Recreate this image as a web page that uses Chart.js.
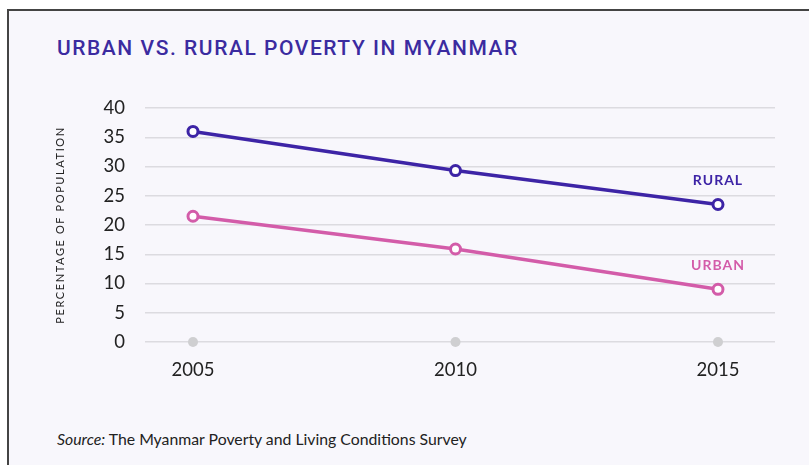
<!DOCTYPE html>
<html>
<head>
<meta charset="utf-8">
<script src="https://cdn.jsdelivr.net/npm/chart.js@4.4.1/dist/chart.umd.min.js"></script>
<style>
	html, body { margin: 0; padding: 0; background: #fff; }
	#wrap { position: relative; width: 809px; height: 465px; overflow: hidden; }
	#frame {
		position: absolute; left: 7px; top: 9px; width: 820px; height: 470px;
		background: #f8f7fc; border-left: 2px solid #444; border-top: 2px solid #444;
	}
	#title {
		position: absolute; left: 57px; top: 36px; margin: 0;
		font-family: "Roboto", sans-serif; font-weight: 500; font-size: 21px;
		color: #3b2ba0; letter-spacing: 1.55px; white-space: nowrap;
	}
	#source {
		position: absolute; left: 57px; top: 429px;
		font-family: "Lato", sans-serif; font-size: 15.8px; color: #222; white-space: nowrap;
	}
	canvas { position: absolute; left: 0; top: 0; }
</style>
</head>
<body>
<div id="wrap">
	<div id="frame"></div>
	<div id="title">URBAN VS. RURAL POVERTY IN MYANMAR</div>
	<div id="source"><i>Source:</i> The Myanmar Poverty and Living Conditions Survey</div>
	<canvas id="grafik" width="809" height="465"></canvas>
</div>
<script>
var years = [2005, 2010, 2015];
var rural = [36.0, 29.3, 23.5];
var urban = [21.5, 15.9, 9.0];
var baseline = [0, 0, 0];
var yTicks = [0, 5, 10, 15, 20, 25, 30, 35, 40];
var yTitle = 'PERCENTAGE OF POPULATION';

var ruralColor = '#3d24a6';
var urbanColor = '#d35ca9';

function points(vals) {
	var out = [];
	for (var i = 0; i < years.length; i++) {
		out.push({ x: years[i], y: vals[i] });
	}
	return out;
}

// series names above the last point, plus the spaced-out y axis title
var extraText = {
	id: 'extraText',
	afterDatasetsDraw: function (chart) {
		var ctx = chart.ctx;
		ctx.save();
		ctx.font = 'bold 14px "Lato", sans-serif';
		ctx.textAlign = 'center';
		ctx.textBaseline = 'middle';
		if (ctx.letterSpacing !== undefined) ctx.letterSpacing = '1px';
		[0, 1].forEach(function (d) {
			var meta = chart.getDatasetMeta(d);
			var pt = meta.data[meta.data.length - 1];
			ctx.fillStyle = chart.data.datasets[d].borderColor;
			ctx.fillText(chart.data.datasets[d].label, pt.x, pt.y - 24);
		});
		ctx.restore();

		var area = chart.chartArea;
		ctx.save();
		ctx.translate(60, (area.top + area.bottom) / 2);
		ctx.rotate(-Math.PI / 2);
		ctx.font = '11px "Lato", sans-serif';
		if (ctx.letterSpacing !== undefined) ctx.letterSpacing = '1.6px';
		ctx.fillStyle = '#222';
		ctx.textAlign = 'center';
		ctx.textBaseline = 'middle';
		ctx.fillText(yTitle, 0, 0);
		ctx.restore();
	}
};

new Chart(document.getElementById('grafik'), {
	type: 'line',
	data: {
		datasets: [
			{
				label: 'RURAL',
				data: points(rural),
				borderColor: ruralColor,
				backgroundColor: '#f8f7fc',
				borderWidth: 3.5,
				pointRadius: 5,
				pointBorderWidth: 3,
				pointBackgroundColor: '#fff',
				tension: 0
			},
			{
				label: 'URBAN',
				data: points(urban),
				borderColor: urbanColor,
				backgroundColor: '#f8f7fc',
				borderWidth: 3.5,
				pointRadius: 5,
				pointBorderWidth: 3,
				pointBackgroundColor: '#fff',
				tension: 0
			},
			{
				label: 'base',
				data: points(baseline),
				showLine: false,
				clip: false,
				pointRadius: 5,
				pointBorderWidth: 0,
				pointBackgroundColor: '#cfcfd1',
				borderColor: '#cfcfd1',
				order: 5
			}
		]
	},
	options: {
		responsive: false,
		animation: false,
		layout: { padding: { left: 50, top: 108, right: 34, bottom: 0 } },
		plugins: {
			legend: { display: false },
			tooltip: { enabled: false }
		},
		scales: {
			x: {
				type: 'linear',
				min: 2004.086,
				max: 2016.086,
				afterBuildTicks: function (scale) {
					scale.ticks = years.map(function (v) { return { value: v }; });
				},
				afterFit: function (scale) { scale.height = 123; },
				grid: { display: false, drawTicks: false },
				border: { display: false },
				ticks: {
					padding: 17,
					color: '#222',
					font: { family: '"Lato", sans-serif', size: 18.5 },
					callback: function (v) { return String(v); }
				}
			},
			y: {
				min: 0,
				max: 40,
				afterBuildTicks: function (scale) {
					scale.ticks = yTicks.map(function (v) { return { value: v }; });
				},
				afterFit: function (scale) { scale.width = 95; },
				grid: { color: '#dcdbe0', lineWidth: 1.5, drawTicks: false },
				border: { display: false },
				ticks: {
					padding: 20,
					color: '#222',
					font: { family: '"Lato", sans-serif', size: 18.5 }
				}
			}
		}
	},
	plugins: [extraText]
});
</script>
</body>
</html>
